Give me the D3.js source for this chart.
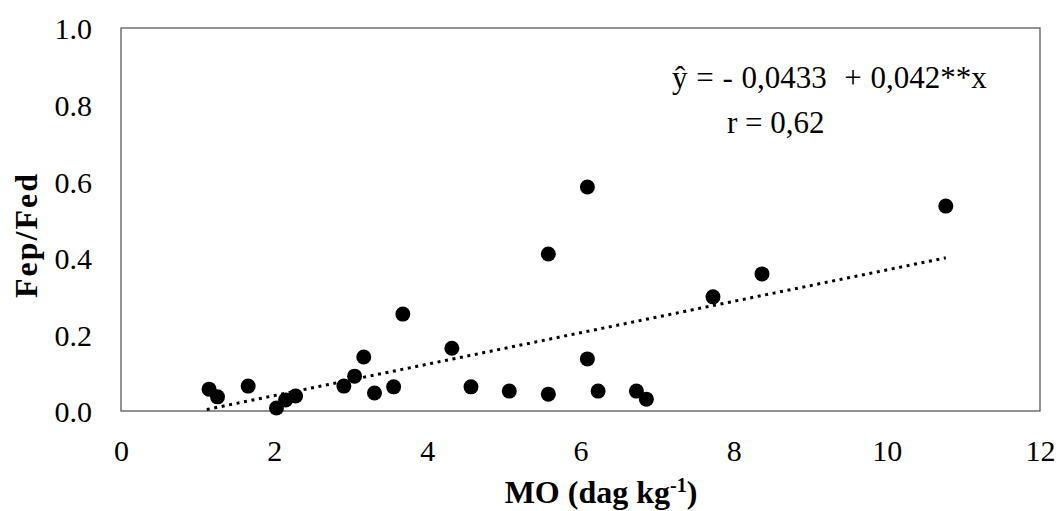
<!DOCTYPE html>
<html>
<head>
<meta charset="utf-8">
<script src="https://cdn.jsdelivr.net/npm/d3@7"></script>
<style>
  body { margin: 0; background: #fff; }
  text { font-family: "Liberation Serif", "Times New Roman", serif; fill: #000; }
</style>
</head>
<body>
<svg id="main_svg_container" width="1059" height="511"></svg>
<script>
// data
var mo_values    = [1.15, 1.26, 1.66, 2.03, 2.15, 2.28, 2.91, 3.05, 3.17, 3.31, 3.56, 3.68, 4.32,
                    4.57, 5.07, 5.58, 5.58, 6.09, 6.09, 6.23, 6.73, 6.86, 7.73, 8.37, 10.77];
var ratio_values = [0.057, 0.037, 0.065, 0.008, 0.029, 0.039, 0.065, 0.091, 0.141, 0.047, 0.063, 0.253, 0.164,
                    0.063, 0.052, 0.044, 0.410, 0.585, 0.136, 0.052, 0.052, 0.031, 0.298, 0.358, 0.535];
var trend_x = [1.12, 10.77];
var trend_y = [0.004, 0.40];
var x_ticks = [0, 2, 4, 6, 8, 10, 12];
var y_ticks = [0, 0.2, 0.4, 0.6, 0.8, 1.0];
var equation_text = "ŷ = - 0,0433  + 0,042**x";
var r_text = "r = 0,62";

var svg = d3.select("#main_svg_container");

var x = d3.scaleLinear().domain([0, 12]).range([121, 1040]);
var y = d3.scaleLinear().domain([0, 1]).range([411, 28]);

// plot area box
svg.append("rect")
    .attr("x", x(0))
    .attr("y", y(1))
    .attr("width", x(12) - x(0))
    .attr("height", y(0) - y(1))
    .attr("fill", "none")
    .attr("stroke", "#595959")
    .attr("stroke-width", 1.3);

// axes, labels only
var xAxis = svg.append("g")
    .attr("transform", "translate(0," + y(0) + ")")
    .call(d3.axisBottom(x).tickValues(x_ticks).tickSize(0).tickPadding(0).tickFormat(d3.format("d")));
xAxis.select(".domain").remove();
xAxis.selectAll("text")
    .attr("y", 50)
    .attr("dy", null)
    .style("font-size", "30px")
    .style("font-family", "Liberation Serif");

var yAxis = svg.append("g")
    .attr("transform", "translate(" + x(0) + ",0)")
    .call(d3.axisLeft(y).tickValues(y_ticks).tickSize(0).tickFormat(d3.format(".1f")));
yAxis.select(".domain").remove();
yAxis.selectAll("text")
    .attr("x", -29)
    .attr("dy", "0.36em")
    .style("font-size", "30px")
    .style("font-family", "Liberation Serif");

// trend line (dotted)
svg.append("path")
    .datum(d3.zip(trend_x, trend_y))
    .attr("d", d3.line().x(function(d) { return x(d[0]); }).y(function(d) { return y(d[1]); }))
    .attr("fill", "none")
    .attr("stroke", "#000")
    .attr("stroke-width", 3)
    .attr("stroke-dasharray", "3,4.6");

// points
svg.append("g")
    .selectAll("circle")
    .data(d3.zip(mo_values, ratio_values))
    .enter()
    .append("circle")
    .attr("cx", function(d) { return x(d[0]); })
    .attr("cy", function(d) { return y(d[1]); })
    .attr("r", 7.5)
    .attr("fill", "#000");

// equation
svg.append("text")
    .attr("x", 672)
    .attr("y", 88)
    .style("font-size", "31px")
    .style("word-spacing", "1px")
    .style("white-space", "pre")
    .text(equation_text);

svg.append("text")
    .attr("x", 727)
    .attr("y", 133)
    .style("font-size", "31px")
    .text(r_text);

// axis titles
var xTitle = svg.append("text")
    .attr("x", 601)
    .attr("y", 503)
    .attr("text-anchor", "middle")
    .style("font-size", "32px")
    .style("font-weight", "bold");
xTitle.append("tspan").text("MO (dag kg");
xTitle.append("tspan").attr("dy", -11).style("font-size", "20px").text("-1");
xTitle.append("tspan").attr("dy", 11).text(")");

svg.append("text")
    .attr("transform", "translate(37,235) rotate(-90)")
    .attr("text-anchor", "middle")
    .style("font-size", "32px")
    .style("font-weight", "bold")
    .style("letter-spacing", "2px")
    .text("Fep/Fed");
</script>
</body>
</html>
